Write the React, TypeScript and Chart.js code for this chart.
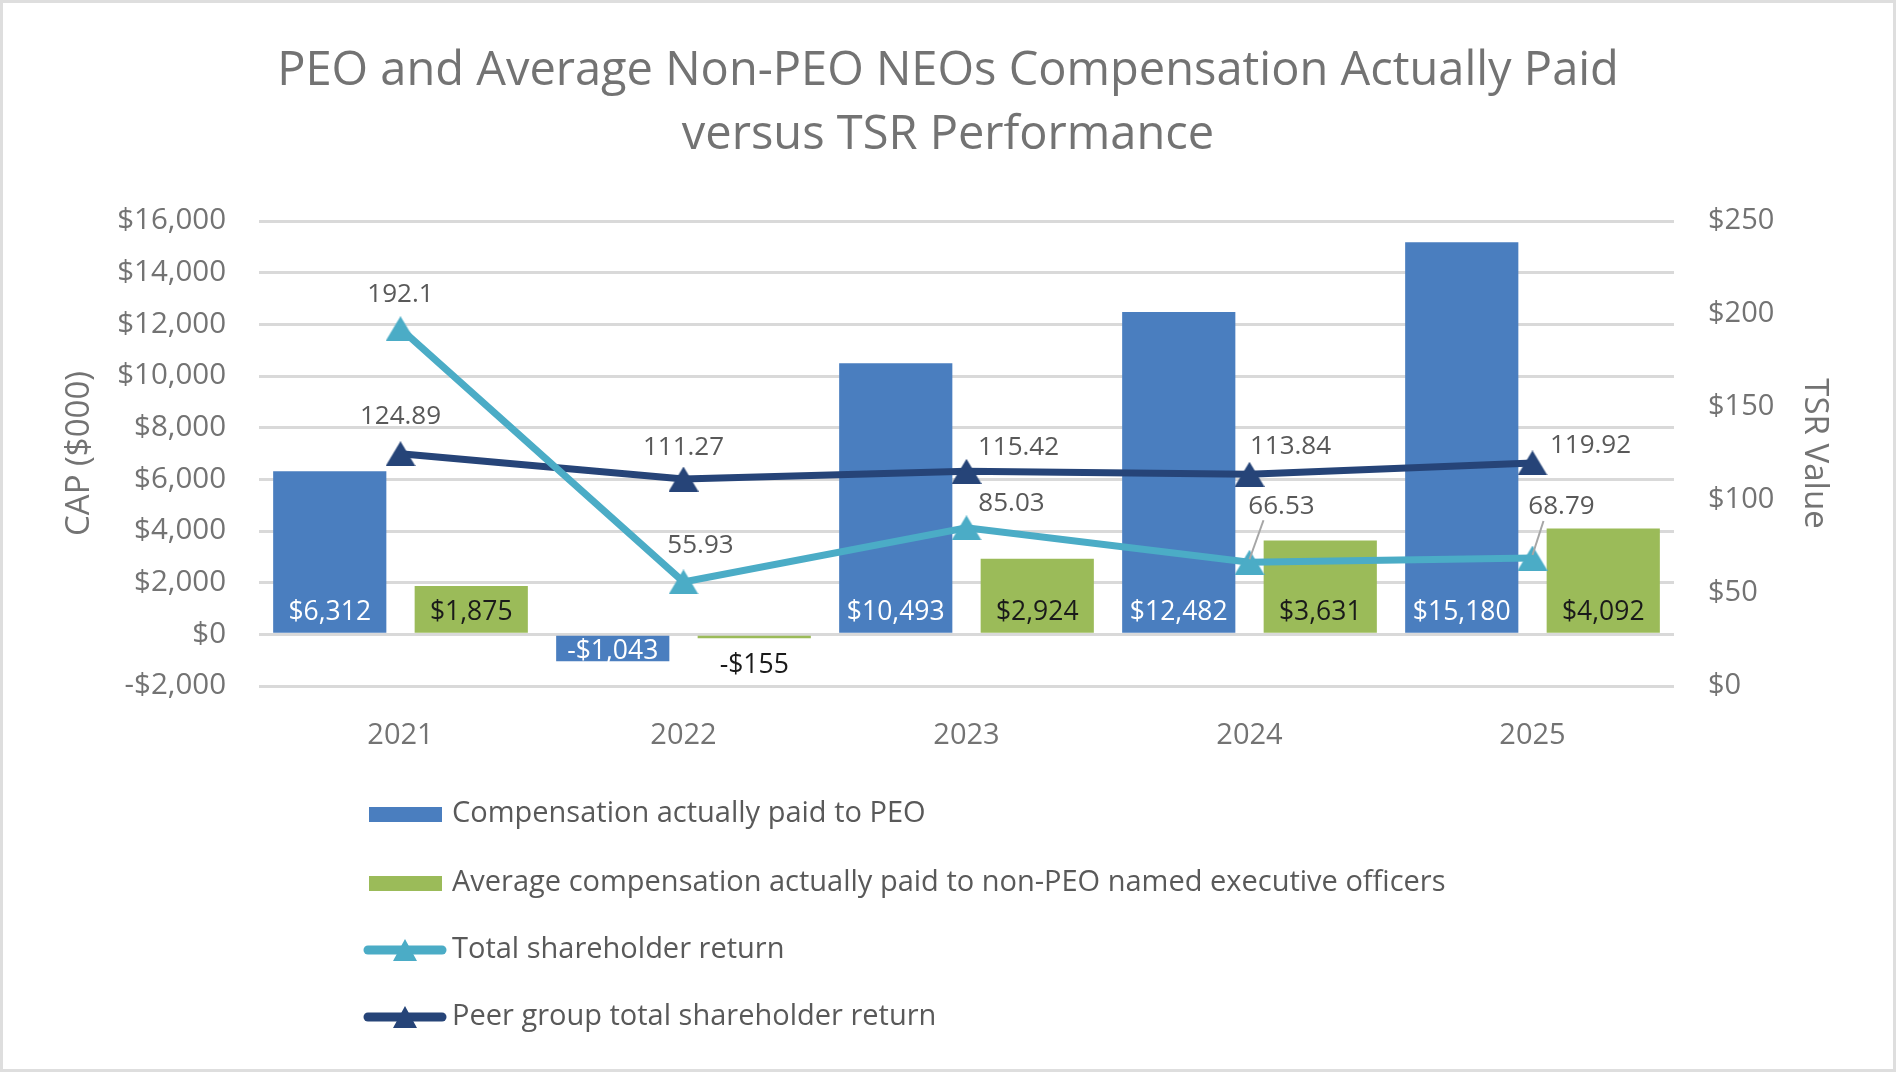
import React, { useEffect, useRef } from "react";
import { Chart, registerables } from "chart.js";

Chart.register(...registerables);

// ---------- data ----------
const years = ["2021", "2022", "2023", "2024", "2025"];
const peoCap = [6312, -1043, 10493, 12482, 15180];
const neoCap = [1875, -155, 2924, 3631, 4092];
const tsr = [192.1, 55.93, 85.03, 66.53, 68.79];
const peerTsr = [124.89, 111.27, 115.42, 113.84, 119.92];

const titleLines = [
  "PEO and Average Non-PEO NEOs Compensation Actually Paid",
  "versus TSR Performance",
];
const seriesNames = [
  "Compensation actually paid to PEO",
  "Average compensation actually paid to non-PEO named executive officers",
  "Total shareholder return",
  "Peer group total shareholder return",
];

// ---------- styles ----------
const FONT = "'Open Sans', 'Noto Sans', sans-serif";
const BLUE = "#4a7ebf";
const GREEN = "#9bbb59";
const TEAL = "#4bacc6";
const NAVY = "#264478";
const GRID = "#d9d9d9";
const AXIS_TEXT = "#737373";
const LABEL_TEXT = "#595959";

// label offsets (dx, dy) from each marker
const tsrLabelOffsets = [[0, -35], [17, -37], [45, -25], [32, -57], [29, -52]];
const peerLabelOffsets = [[0, -38], [0, -32], [52, -25], [41, -29], [58, -18]];
const tsrLeader = [false, false, false, true, true];

const legendRows = [814, 883, 950, 1017];

const money = (v: number) =>
  (v < 0 ? "-$" : "$") + Math.abs(v).toLocaleString("en-US");

function triangleImage(color: string, w: number, h: number) {
  const c = document.createElement("canvas");
  c.width = w;
  c.height = h;
  const g = c.getContext("2d")!;
  g.fillStyle = color;
  g.beginPath();
  g.moveTo(w / 2, 0);
  g.lineTo(w, h);
  g.lineTo(0, h);
  g.closePath();
  g.fill();
  return c;
}

const framePlugin = {
  id: "frame",
  beforeDraw(chart: any) {
    const { ctx, width, height } = chart;
    ctx.save();
    ctx.fillStyle = "#ffffff";
    ctx.fillRect(0, 0, width, height);
    ctx.restore();
  },
  afterDraw(chart: any) {
    const { ctx, width, height } = chart;
    ctx.save();
    ctx.strokeStyle = "#dedede";
    ctx.lineWidth = 3;
    ctx.strokeRect(1.5, 1.5, width - 3, height - 3);
    ctx.restore();
  },
};

const labelsPlugin = {
  id: "dataLabels",
  afterDatasetsDraw(chart: any) {
    const ctx = chart.ctx;
    ctx.save();
    ctx.font = `26.5px ${FONT}`;
    ctx.textAlign = "center";
    ctx.textBaseline = "middle";
    // bar labels
    [0, 1].forEach((di) => {
      const meta = chart.getDatasetMeta(di);
      const vals = chart.data.datasets[di].data as number[];
      meta.data.forEach((el: any, i: number) => {
        const v = vals[i];
        const h = Math.abs(el.base - el.y);
        let y: number;
        let color = di === 0 ? "#ffffff" : "#1a1a1a";
        if (v >= 0) {
          y = el.base - 20;
        } else if (h > 18) {
          y = el.base + 16;
        } else {
          y = el.y + 27;
          color = "#1a1a1a";
        }
        ctx.fillStyle = color;
        ctx.fillText(money(v), el.x, y);
      });
    });
    // line labels
    ctx.font = `26px ${FONT}`;
    const lineSets: [number, number[][]][] = [
      [2, tsrLabelOffsets],
      [3, peerLabelOffsets],
    ];
    lineSets.forEach(([di, offs]) => {
      const meta = chart.getDatasetMeta(di);
      const vals = chart.data.datasets[di].data as number[];
      meta.data.forEach((el: any, i: number) => {
        const lx = el.x + offs[i][0];
        const ly = el.y + offs[i][1] + 1;
        if (di === 2 && tsrLeader[i]) {
          ctx.strokeStyle = "#a6a6a6";
          ctx.lineWidth = 2;
          ctx.beginPath();
          ctx.moveTo(lx - 18, ly + 14);
          ctx.lineTo(el.x, el.y - 3);
          ctx.stroke();
        }
        ctx.fillStyle = LABEL_TEXT;
        ctx.fillText(String(vals[i]), lx, ly);
      });
    });
    ctx.restore();
  },
};

const legendPlugin = {
  id: "customLegend",
  afterDraw(chart: any) {
    const ctx = chart.ctx;
    ctx.save();
    const ds = chart.data.datasets;
    ds.forEach((d: any, i: number) => {
      const cy = legendRows[i];
      if (d.type === "line") {
        ctx.strokeStyle = d.borderColor;
        ctx.lineWidth = 9;
        ctx.lineCap = "round";
        ctx.beginPath();
        ctx.moveTo(368, cy);
        ctx.lineTo(442, cy);
        ctx.stroke();
        ctx.fillStyle = d.borderColor;
        ctx.beginPath();
        ctx.moveTo(405, cy - 11);
        ctx.lineTo(417, cy + 11);
        ctx.lineTo(393, cy + 11);
        ctx.closePath();
        ctx.fill();
      } else {
        ctx.fillStyle = d.backgroundColor;
        ctx.fillRect(369, cy - 7, 73, 15);
      }
      ctx.fillStyle = LABEL_TEXT;
      ctx.font = `29px ${FONT}`;
      ctx.textAlign = "left";
      ctx.textBaseline = "middle";
      ctx.fillText(d.label, 452, cy);
    });
    ctx.restore();
  },
};

export default function App() {
  const ref = useRef<HTMLCanvasElement | null>(null);

  useEffect(() => {
    document.body.style.margin = "0";
    if (!ref.current) return;
    const tealTri = triangleImage(TEAL, 30, 25);
    const navyTri = triangleImage(NAVY, 30, 25);
    const chart = new Chart(ref.current, {
      type: "bar",
      data: {
        labels: years,
        datasets: [
          {
            type: "bar",
            label: seriesNames[0],
            data: peoCap,
            backgroundColor: BLUE,
            yAxisID: "y",
            order: 2,
            barPercentage: 0.8,
            categoryPercentage: 1.0,
          },
          {
            type: "bar",
            label: seriesNames[1],
            data: neoCap,
            backgroundColor: GREEN,
            yAxisID: "y",
            order: 2,
            barPercentage: 0.8,
            categoryPercentage: 1.0,
          },
          {
            type: "line",
            label: seriesNames[2],
            data: tsr,
            borderColor: TEAL,
            backgroundColor: TEAL,
            borderWidth: 7,
            pointStyle: tealTri,
            pointRadius: 15,
            yAxisID: "y1",
            order: 0,
          },
          {
            type: "line",
            label: seriesNames[3],
            data: peerTsr,
            borderColor: NAVY,
            backgroundColor: NAVY,
            borderWidth: 7,
            pointStyle: navyTri,
            pointRadius: 15,
            yAxisID: "y1",
            order: 1,
          },
        ] as any,
      },
      options: {
        responsive: false,
        animation: false,
        layout: { padding: { top: 0, left: 40, right: 40, bottom: 306 } },
        plugins: {
          legend: { display: false },
          tooltip: { enabled: false },
          title: {
            display: true,
            text: titleLines,
            color: AXIS_TEXT,
            font: { family: FONT, size: 47, weight: "normal", lineHeight: 64 / 47 },
            padding: { top: 40, bottom: 53 },
          },
        },
        scales: {
          x: {
            offset: true,
            grid: { display: false },
            border: { display: false },
            ticks: { color: AXIS_TEXT, font: { family: FONT, size: 29 }, padding: 24 },
            afterFit: (s: any) => {
              s.height = 80;
            },
          },
          y: {
            position: "left",
            min: -2000,
            max: 16000,
            grid: { color: GRID, lineWidth: 3, drawTicks: false },
            border: { display: false },
            ticks: {
              stepSize: 2000,
              color: AXIS_TEXT,
              font: { family: FONT, size: 29.5 },
              padding: 33,
              callback: (v: any) => money(Number(v)),
            },
            title: {
              display: true,
              text: "CAP ($000)",
              color: AXIS_TEXT,
              font: { family: FONT, size: 33 },
              padding: { top: 20, bottom: 0 },
            },
            afterFit: (s: any) => {
              s.width = 219;
            },
          },
          y1: {
            position: "right",
            min: 0,
            max: 250,
            grid: { display: false, drawTicks: false },
            border: { display: false },
            ticks: {
              stepSize: 50,
              color: AXIS_TEXT,
              font: { family: FONT, size: 29 },
              padding: 34,
              callback: (v: any) => "$" + v,
            },
            title: {
              display: true,
              text: "TSR Value",
              color: AXIS_TEXT,
              font: { family: FONT, size: 33 },
              padding: { top: 22, bottom: 0 },
            },
            afterFit: (s: any) => {
              s.width = 182;
            },
          },
        },
      } as any,
      plugins: [framePlugin, labelsPlugin, legendPlugin],
    });
    return () => chart.destroy();
  }, []);

  return (
    <div style={{ width: 1896, height: 1072 }}>
      <canvas ref={ref} width={1896} height={1072} style={{ display: "block" }} />
    </div>
  );
}
